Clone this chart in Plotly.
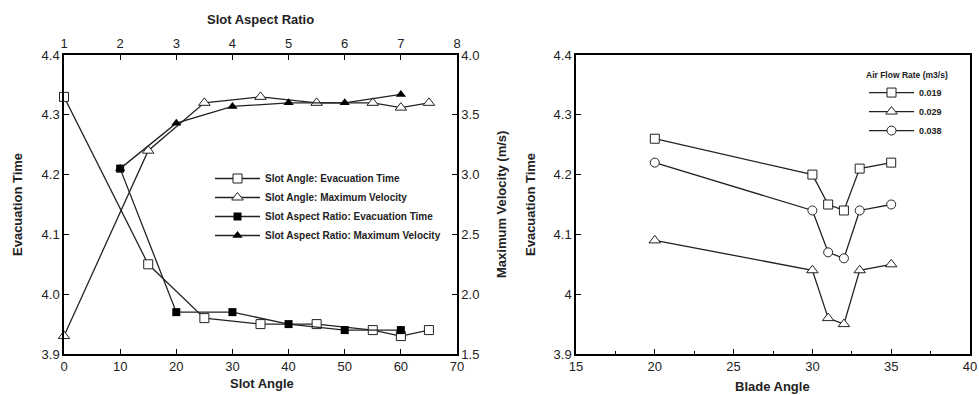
import plotly.graph_objects as go

# ---- Left panel data ----
slot_angle = [0, 15, 25, 35, 45, 55, 60, 65]
sa_evac_time = [4.33, 4.05, 3.96, 3.95, 3.95, 3.94, 3.93, 3.94]
sa_max_vel = [1.65, 3.20, 3.60, 3.65, 3.60, 3.60, 3.56, 3.60]

aspect_ratio = [2, 3, 4, 5, 6, 7]
ar_evac_time = [4.21, 3.97, 3.97, 3.95, 3.94, 3.94]
ar_max_vel = [3.05, 3.43, 3.57, 3.60, 3.60, 3.67]

# ---- Right panel data ----
blade_angle = [20, 30, 31, 32, 33, 35]
flow_019 = [4.26, 4.20, 4.15, 4.14, 4.21, 4.22]
flow_029 = [4.09, 4.04, 3.96, 3.95, 4.04, 4.05]
flow_038 = [4.22, 4.14, 4.07, 4.06, 4.14, 4.15]

FONT = "Liberation Sans, Arial, sans-serif"
LC = "#222222"
W, H = 979, 395
L, R, T, B = 64, 9, 55, 41
PW, PH = W - L - R, H - T - B

def px(x):
    return (x - L) / PW

def py(y):
    return 1 - (y - T) / PH

def open_marker(symbol, size):
    return dict(symbol=symbol, size=size, color="white", line=dict(width=1, color=LC))

fig = go.Figure()

line = dict(color=LC, width=1.3)
fig.add_trace(go.Scatter(x=slot_angle, y=sa_evac_time, mode="lines+markers",
                         name="Slot Angle: Evacuation Time", line=line,
                         marker=open_marker("square", 9),
                         xaxis="x", yaxis="y", legend="legend"))
fig.add_trace(go.Scatter(x=slot_angle, y=sa_max_vel, mode="lines+markers",
                         name="Slot Angle: Maximum Velocity", line=line,
                         marker=open_marker("triangle-up", 10),
                         xaxis="x", yaxis="y2", legend="legend"))
fig.add_trace(go.Scatter(x=aspect_ratio, y=ar_evac_time, mode="lines+markers",
                         name="Slot Aspect Ratio: Evacuation Time", line=line,
                         marker=dict(symbol="square", size=8, color="black"),
                         xaxis="x2", yaxis="y", legend="legend"))
fig.add_trace(go.Scatter(x=aspect_ratio, y=ar_max_vel, mode="lines+markers",
                         name="Slot Aspect Ratio: Maximum Velocity", line=line,
                         marker=dict(symbol="triangle-up", size=9, color="black"),
                         xaxis="x2", yaxis="y4", legend="legend"))

fig.add_trace(go.Scatter(x=blade_angle, y=flow_019, mode="lines+markers", name="0.019",
                         line=line, marker=open_marker("square", 9),
                         xaxis="x3", yaxis="y3", legend="legend2"))
fig.add_trace(go.Scatter(x=blade_angle, y=flow_029, mode="lines+markers", name="0.029",
                         line=line, marker=open_marker("triangle-up", 10),
                         xaxis="x3", yaxis="y3", legend="legend2"))
fig.add_trace(go.Scatter(x=blade_angle, y=flow_038, mode="lines+markers", name="0.038",
                         line=line, marker=open_marker("circle", 9),
                         xaxis="x3", yaxis="y3", legend="legend2"))

fig.update_traces(cliponaxis=False)

ax_common = dict(showline=True, linecolor="black", linewidth=1.5, showgrid=False, zeroline=False,
                 ticks="inside", ticklen=5, tickcolor="black", automargin=False,
                 tickfont=dict(family=FONT, size=13, color="#222"))

fig.update_layout(
    width=W, height=H, margin=dict(l=L, r=R, t=T, b=B, autoexpand=False),
    plot_bgcolor="white", paper_bgcolor="white",
    font=dict(family=FONT, color="#222"),
    xaxis=dict(domain=[px(64), px(457)], range=[0, 70], dtick=10, anchor="y", **ax_common),
    xaxis2=dict(range=[1, 8], dtick=1, overlaying="x", side="top", anchor="y", **ax_common),
    yaxis=dict(domain=[0, 1], range=[3.9, 4.4], dtick=0.1, tickformat=".1f", anchor="x", **ax_common),
    yaxis2=dict(range=[1.5, 4.0], dtick=0.5, tickformat=".1f", overlaying="y", side="right",
                anchor="x", **ax_common),
    yaxis4=dict(range=[1.5, 4.0], overlaying="y", side="right", anchor="x", visible=False),
    xaxis3=dict(domain=[px(576), px(970)], range=[15, 40], dtick=5, anchor="y3", mirror=True,
                minor=dict(dtick=2.5, ticks="inside", ticklen=3, tickcolor="black"), **ax_common),
    yaxis3=dict(domain=[0, 1], range=[3.9, 4.4], dtick=0.1, anchor="x3", mirror=True, **ax_common),
    legend=dict(x=px(210), y=py(164), xanchor="left", yanchor="top", bgcolor="rgba(0,0,0,0)",
                font=dict(family=FONT, size=10, color="#222", weight="bold"),
                itemwidth=45, tracegroupgap=0, traceorder="normal"),
    legend2=dict(x=px(864), y=py(67), xanchor="left", yanchor="top", bgcolor="rgba(0,0,0,0)",
                 font=dict(family=FONT, size=9, color="#222", weight="bold"),
                 title=dict(text="Air Flow Rate (m3/s)", side="top",
                            font=dict(family=FONT, size=8.5, color="#222", weight="bold")),
                 itemwidth=45, traceorder="normal"),
    showlegend=True,
)

title_font = dict(family=FONT, size=13, color="#222", weight="bold")
annos = [
    dict(text="Slot Aspect Ratio", x=px(260), y=py(19)),
    dict(text="Slot Angle", x=px(262), y=py(383)),
    dict(text="Evacuation Time", x=px(17), y=py(205), textangle=-90),
    dict(text="Maximum Velocity (m/s)", x=px(501), y=py(205), textangle=-90),
    dict(text="Evacuation Time", x=px(530), y=py(205), textangle=-90),
    dict(text="Blade Angle", x=px(772), y=py(386)),
]
for a in annos:
    fig.add_annotation(xref="paper", yref="paper", showarrow=False, font=title_font,
                       xanchor="center", yanchor="middle", **a)

fig.write_html("out.html", config={"displayModeBar": False},
               post_script="document.body.style.margin='0';")
